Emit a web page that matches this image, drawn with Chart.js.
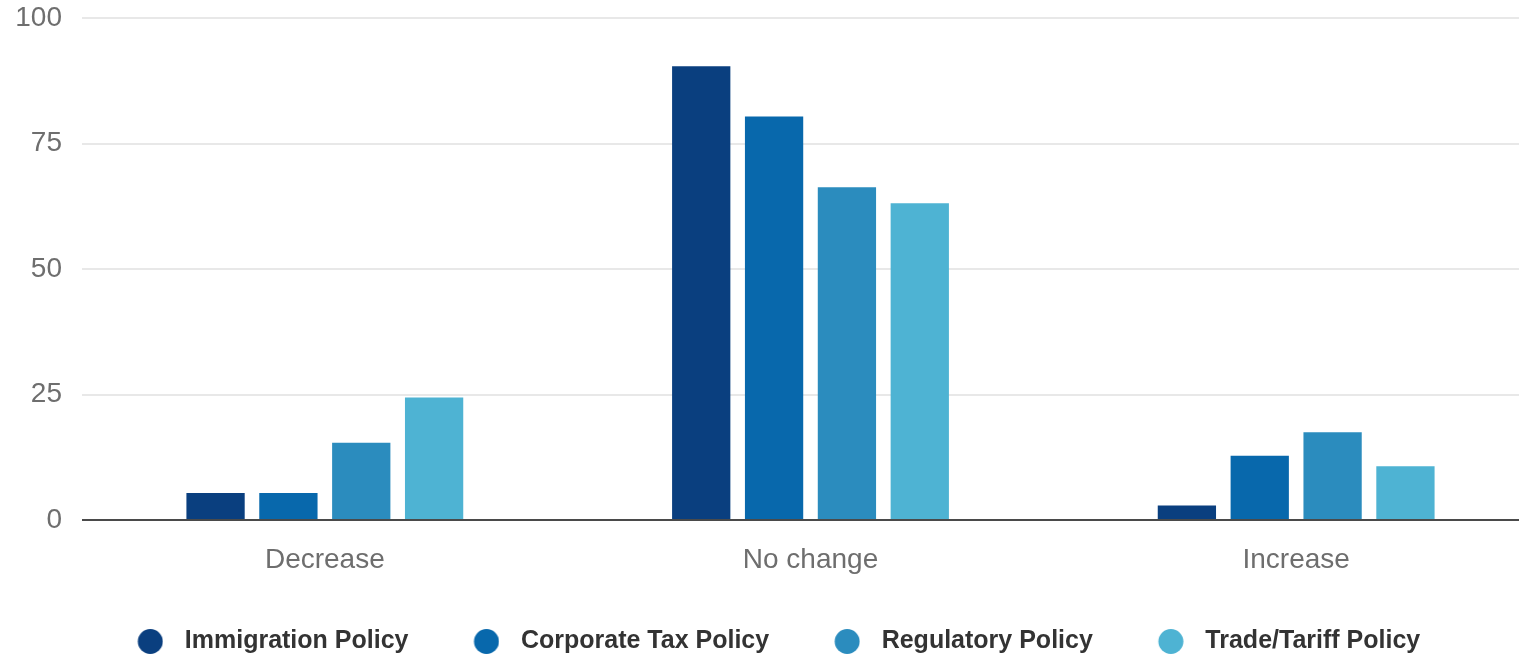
<!DOCTYPE html>
<html>
<head>
<meta charset="utf-8">
<title>Policy impact</title>
<script src="https://cdn.jsdelivr.net/npm/chart.js@4/dist/chart.umd.min.js"></script>
<style>
  html, body { margin: 0; padding: 0; background: #fff; overflow: hidden; }
  .chart-container { position: relative; width: 1560px; height: 654px; }
</style>
</head>
<body>
<div class="chart-container">
  <canvas id="policyChart"></canvas>
</div>
<script>
const categories = ["Decrease", "No change", "Increase"];
const seriesNames = ["Immigration Policy", "Corporate Tax Policy", "Regulatory Policy", "Trade/Tariff Policy"];
const immigration = [5.4, 90.4, 2.9];
const corporateTax = [5.4, 80.4, 12.8];
const regulatory = [15.4, 66.3, 17.5];
const tradeTariff = [24.4, 63.1, 10.7];
const yTicks = [0, 25, 50, 75, 100];
const colors = ["#0a3f7f", "#0868ac", "#2b8cbe", "#4eb3d3"];

const FONT = "'Liberation Sans', Arial, Helvetica, sans-serif";

// legend marker: wide transparent image with the dot on its right side,
// so the item gets extra space before the dot and a wider gap to the label
function makeDot(color) {
  const c = document.createElement("canvas");
  c.width = 72;
  c.height = 25;
  const g = c.getContext("2d");
  g.fillStyle = color;
  g.beginPath();
  g.arc(59, 12.5, 12.5, 0, Math.PI * 2);
  g.fill();
  return c;
}
const dots = colors.map(makeDot);

const values = [immigration, corporateTax, regulatory, tradeTariff];
const datasets = seriesNames.map((name, i) => ({
  label: name,
  data: values[i],
  backgroundColor: colors[i],
  borderWidth: 0,
  categoryPercentage: 0.6,
  barPercentage: 0.8
}));

const ctx = document.getElementById("policyChart");
new Chart(ctx, {
  type: "bar",
  data: { labels: categories, datasets: datasets },
  options: {
    responsive: true,
    maintainAspectRatio: false,
    animation: false,
    layout: { padding: { left: -36.5, right: 21, top: 18, bottom: -10 } },
    scales: {
      x: {
        grid: { display: false },
        border: { display: false },
        ticks: {
          color: "#6e6e6e",
          padding: 15,
          font: { family: FONT, size: 28 }
        },
        afterFit: axis => { axis.height = 99; }
      },
      y: {
        min: 0,
        max: 100,
        afterBuildTicks: axis => { axis.ticks = yTicks.map(v => ({ value: v })); },
        grid: {
          drawTicks: false,
          lineWidth: 2,
          color: c => (c.tick && c.tick.value === 0 ? "#4a4a4a" : "#e8e8e8")
        },
        border: { display: false },
        ticks: {
          color: "#6e6e6e",
          padding: 20,
          font: { family: FONT, size: 28 }
        },
        afterFit: axis => {
          axis.width = 118.5;
          axis.paddingTop = 0;
          axis.paddingBottom = 0;
        }
      }
    },
    plugins: {
      tooltip: { enabled: false },
      legend: {
        position: "bottom",
        labels: {
          usePointStyle: true,
          pointStyleWidth: 90,
          boxHeight: 18,
          padding: 10,
          color: "#333",
          font: { family: FONT, size: 25, weight: "bold" },
          generateLabels: chart => {
            const items = Chart.defaults.plugins.legend.labels.generateLabels(chart);
            items.forEach(it => { it.pointStyle = dots[it.datasetIndex]; });
            return items;
          }
        }
      }
    }
  }
});
</script>
</body>
</html>
